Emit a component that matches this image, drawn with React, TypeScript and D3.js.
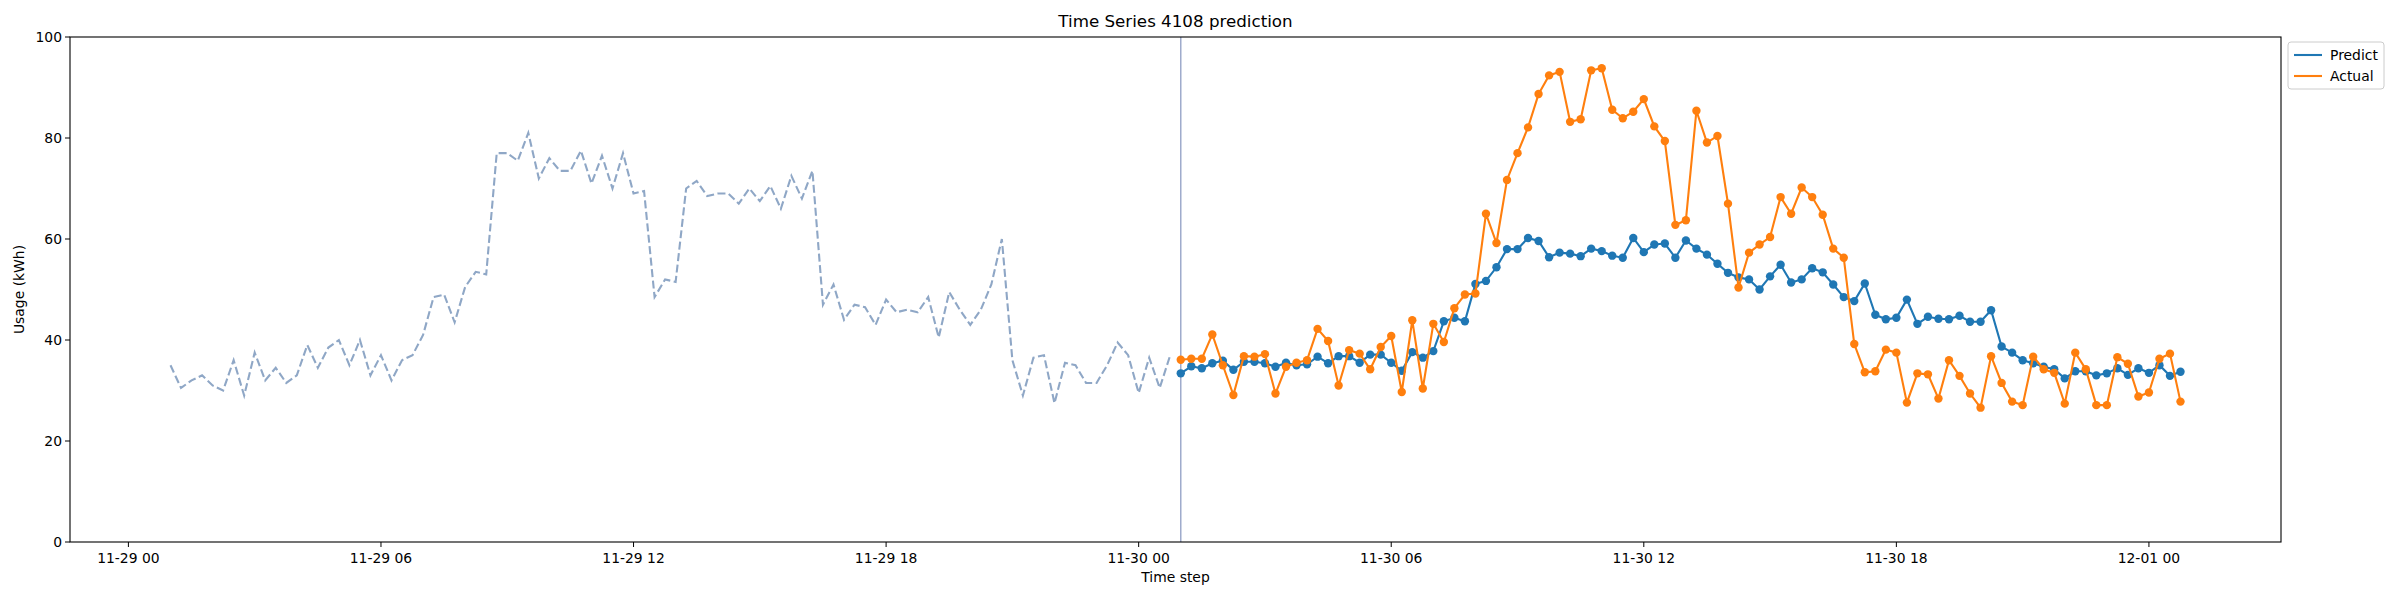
import React from 'react';
import * as d3 from 'd3';

// 15-minute steps
const historyStart = new Date(2023, 10, 29, 1, 0);
const predStart = new Date(2023, 10, 30, 1, 0);

const history = [
  35, 30.5, 32, 33, 31, 30, 36, 29, 37.5, 32,
  34.5, 31.5, 33, 39, 34.5, 38.5, 40, 35, 40, 33,
  37, 32, 36, 37, 41, 48.5, 49, 43.5, 50.5, 53.5,
  53, 77, 77, 75.5, 81, 72, 76, 73.5, 73.5, 77.5,
  71, 76.5, 70, 77, 69, 69.5, 48.5, 52, 51.5, 70,
  71.5, 68.5, 69, 69, 67, 70, 67.5, 70.5, 66, 72.5,
  68, 73.5, 47, 51, 44, 47, 46.5, 43, 48, 45.5,
  46, 45.5, 48.5, 40.5, 49.5, 46, 43, 46, 51, 60,
  36, 29, 36.5, 37, 27.5, 35.5, 35, 31.5, 31.5, 35,
  39.5, 37, 29.5, 36.5, 30.5, 37,
];

const predict = [
  33.4, 34.8, 34.4, 35.4, 35.9, 34.1, 35.7, 35.7, 35.4, 34.7,
  35.5, 35.0, 35.2, 36.7, 35.4, 36.8, 36.8, 35.5, 37.1, 37.1,
  35.5, 33.9, 37.6, 36.5, 37.8, 43.7, 44.4, 43.7, 51.1, 51.7,
  54.4, 58.0, 58.0, 60.2, 59.6, 56.4, 57.3, 57.1, 56.6, 58.1,
  57.6, 56.7, 56.3, 60.2, 57.4, 58.9, 59.1, 56.3, 59.7, 58.1,
  56.9, 55.1, 53.3, 52.4, 52.0, 50.0, 52.6, 54.9, 51.4, 52.0,
  54.2, 53.4, 51.0, 48.5, 47.7, 51.2, 45.0, 44.1, 44.4, 48.0,
  43.2, 44.6, 44.2, 44.1, 44.8, 43.6, 43.6, 45.9, 38.7, 37.5,
  36.0, 35.4, 34.7, 34.2, 32.4, 33.8, 33.8, 33.0, 33.4, 34.4,
  33.1, 34.4, 33.5, 35.0, 32.9, 33.7,
];

const actual = [
  36.1, 36.3, 36.3, 41.1, 35.0, 29.1, 36.8, 36.7, 37.2, 29.4,
  34.7, 35.5, 36.0, 42.2, 39.8, 31.0, 38.0, 37.3, 34.2, 38.6,
  40.8, 29.7, 43.9, 30.4, 43.2, 39.6, 46.3, 49.0, 49.2, 65.0,
  59.2, 71.7, 77.0, 82.1, 88.7, 92.4, 93.1, 83.2, 83.7, 93.4,
  93.8, 85.6, 83.9, 85.2, 87.7, 82.3, 79.4, 62.8, 63.7, 85.4,
  79.1, 80.4, 67.0, 50.4, 57.3, 58.9, 60.4, 68.3, 65.0, 70.2,
  68.3, 64.8, 58.1, 56.3, 39.2, 33.6, 33.8, 38.1, 37.5, 27.6,
  33.4, 33.2, 28.4, 36.0, 32.9, 29.4, 26.6, 36.8, 31.5, 27.8,
  27.1, 36.7, 34.2, 33.5, 27.4, 37.5, 34.2, 27.1, 27.1, 36.6,
  35.3, 28.8, 29.6, 36.3, 37.3, 27.8,
];

const yTicks = [0, 20, 40, 60, 80, 100];
const xTicks = [
  new Date(2023, 10, 29, 0), new Date(2023, 10, 29, 6), new Date(2023, 10, 29, 12),
  new Date(2023, 10, 29, 18), new Date(2023, 10, 30, 0), new Date(2023, 10, 30, 6),
  new Date(2023, 10, 30, 12), new Date(2023, 10, 30, 18), new Date(2023, 11, 1, 0),
];

const step = 15 * 60 * 1000;
const at = (start: Date, i: number) => new Date(start.getTime() + i * step);

const W = 2400, H = 600;
const m = { left: 70, right: 2281, top: 37, bottom: 542 };
const font = 'DejaVu Sans, sans-serif';

export default function App() {
  const t0 = historyStart.getTime();
  const t1 = at(predStart, predict.length - 1).getTime();
  const pad = (t1 - t0) * 0.05;
  const x = d3.scaleTime().domain([new Date(t0 - pad), new Date(t1 + pad)]).range([m.left, m.right]);
  const y = d3.scaleLinear().domain([0, 100]).range([m.bottom, m.top]);
  const line = d3.line<[Date, number]>().x(d => x(d[0])).y(d => y(d[1]));
  const hist = history.map((v, i) => [at(historyStart, i), v] as [Date, number]);
  const pred = predict.map((v, i) => [at(predStart, i), v] as [Date, number]);
  const act = actual.map((v, i) => [at(predStart, i), v] as [Date, number]);
  const fmt = d3.timeFormat('%m-%d %H');

  return (
    <svg width={W} height={H} style={{ position: 'absolute', left: 0, top: 0 }} fontFamily={font}>
      <rect width={W} height={H} fill="#fff" />
      <text x={(m.left + m.right) / 2} y={27} textAnchor="middle" fontSize={16.7}>Time Series 4108 prediction</text>
      <path d={line(hist) ?? ''} fill="none" stroke="#8fa7c6" strokeWidth={2.1} strokeDasharray="8,3.5" />
      <line x1={x(predStart)} x2={x(predStart)} y1={m.top} y2={m.bottom} stroke="#9eabcc" strokeWidth={1.5} />
      <path d={line(pred) ?? ''} fill="none" stroke="#1f77b4" strokeWidth={2.1} />
      {pred.map((d, i) => <circle key={'p' + i} cx={x(d[0])} cy={y(d[1])} r={4.2} fill="#1f77b4" />)}
      <path d={line(act) ?? ''} fill="none" stroke="#ff7f0e" strokeWidth={2.1} />
      {act.map((d, i) => <circle key={'a' + i} cx={x(d[0])} cy={y(d[1])} r={4.2} fill="#ff7f0e" />)}
      <rect x={m.left} y={m.top} width={m.right - m.left} height={m.bottom - m.top} fill="none" stroke="#000" strokeWidth={1.1} />
      {yTicks.map(t => (
        <g key={t}>
          <line x1={m.left - 5} x2={m.left} y1={y(t)} y2={y(t)} stroke="#000" />
          <text x={m.left - 8} y={y(t) + 5} textAnchor="end" fontSize={13.9}>{t}</text>
        </g>
      ))}
      {xTicks.map((t, i) => (
        <g key={i}>
          <line x1={x(t)} x2={x(t)} y1={m.bottom} y2={m.bottom + 5} stroke="#000" />
          <text x={x(t)} y={m.bottom + 21} textAnchor="middle" fontSize={13.9}>{fmt(t)}</text>
        </g>
      ))}
      <text x={(m.left + m.right) / 2} y={582} textAnchor="middle" fontSize={13.9}>Time step</text>
      <text transform={`translate(24,${(m.top + m.bottom) / 2}) rotate(-90)`} textAnchor="middle" fontSize={13.9}>Usage (kWh)</text>
      <g transform="translate(2288,42)">
        <rect width={96} height={47} rx={3} fill="#fff" stroke="#ccc" />
        <line x1={6} x2={34} y1={13} y2={13} stroke="#1f77b4" strokeWidth={2.1} />
        <text x={42} y={18} fontSize={13.9}>Predict</text>
        <line x1={6} x2={34} y1={34} y2={34} stroke="#ff7f0e" strokeWidth={2.1} />
        <text x={42} y={39} fontSize={13.9}>Actual</text>
      </g>
    </svg>
  );
}
